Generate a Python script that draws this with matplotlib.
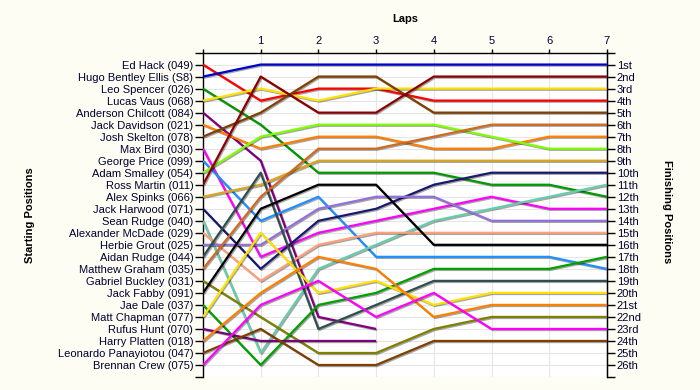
import matplotlib
matplotlib.use("Agg")
import matplotlib.pyplot as plt
import matplotlib.patheffects as pe

drivers = ["Ed Hack (049)", "Hugo Bentley Ellis (S8)", "Leo Spencer (026)", "Lucas Vaus (068)",
           "Anderson Chilcott (084)", "Jack Davidson (021)", "Josh Skelton (078)", "Max Bird (030)",
           "George Price (099)", "Adam Smalley (054)", "Ross Martin (011)", "Alex Spinks (066)",
           "Jack Harwood (071)", "Sean Rudge (040)", "Alexander McDade (029)", "Herbie Grout (025)",
           "Aidan Rudge (044)", "Matthew Graham (035)", "Gabriel Buckley (031)", "Jack Fabby (091)",
           "Jae Dale (037)", "Matt Chapman (077)", "Rufus Hunt (070)", "Harry Platten (018)",
           "Leonardo Panayiotou (047)", "Brennan Crew (075)"]

# position at lap 0..7 (shorter lists = retired)
positions = [
    [1, 4, 3, 3, 4, 4, 4, 4],
    [2, 1, 1, 1, 1, 1, 1, 1],
    [3, 6, 10, 10, 10, 11, 11, 12],
    [4, 3, 4, 3, 3, 3, 3, 3],
    [5, 9, 22, 23],
    [6, 8, 7, 7, 8, 8, 7, 7],
    [7, 5, 2, 2, 5, 5, 5, 5],
    [8, 17, 15, 14, 13, 12, 13, 13],
    [9, 14, 12, 17, 17, 17, 17, 18],
    [10, 7, 6, 6, 6, 7, 8, 8],
    [11, 2, 5, 5, 2, 2, 2, 2],
    [12, 11, 9, 9, 9, 9, 9, 9],
    [13, 18, 14, 13, 11, 10, 10, 10],
    [14, 25, 18, 16, 14, 13, 12, 11],
    [15, 19, 16, 15, 15, 15, 15, 15],
    [16, 16, 13, 12, 12, 14, 14, 14],
    [17, 10, 23, 21, 19, 19, 19, 19],
    [18, 12, 8, 8, 7, 6, 6, 6],
    [19, 22, 25, 25, 23, 22, 22, 22],
    [20, 13, 11, 11, 16, 16, 16, 16],
    [21, 26, 21, 20, 18, 18, 18, 17],
    [22, 15, 20, 19, 21, 20, 20, 20],
    [23, 24, 24, 24],
    [24, 20, 17, 18, 22, 21, 21, 21],
    [25, 23, 26, 26, 24, 24, 24, 24],
    [26, 21, 19, 22, 20, 23, 23, 23],
]

colors = ["#ff0000", "#0000cd", "#009a00", "#ffe000", "#800080", "#ff7f00", "#7f3f00", "#ff00ff",
          "#1e90ff", "#80ff00", "#8b0000", "#daa520", "#191970", "#66cdaa", "#ffa07a", "#9370db",
          "#2f4f4f", "#d2691e", "#808000", "#000000", "#00a000", "#ffe000", "#7a007a", "#ff7f00",
          "#7f3f00", "#ff00ff"]

finish_labels = ["1st", "2nd", "3rd"] + [f"{i}th" for i in range(4, 21)] + ["21st", "22nd", "23rd", "24th", "25th", "26th"]
laps = [1, 2, 3, 4, 5, 6, 7]

plt.rcParams['font.family'] = ['Liberation Sans', 'DejaVu Sans']
txtc = "#000033"

fig = plt.figure(figsize=(7, 3.9), dpi=100, facecolor="#fdfdf3")
ax = fig.add_axes([0.29, 0.0333, 0.577, 0.832])
ax.set_facecolor("white")

for pos, c in zip(positions, colors):
    ax.plot(range(len(pos)), pos, color=c, lw=1.6, solid_capstyle="butt", zorder=3,
            path_effects=[pe.SimpleLineShadow(offset=(0.8, -0.8), shadow_color="#000000", alpha=0.35),
                          pe.Normal()])

ax.set_xlim(0, 7)
ax.set_ylim(27, 0)

for y in range(0, 28):
    ax.axhline(y, color="#e6e6e6", lw=0.8, zorder=1)
for x in laps:
    ax.axvline(x, color="#e6e6e6", lw=0.8, zorder=1)

ax.spines['bottom'].set_visible(False)
for s in ['left', 'right', 'top']:
    ax.spines[s].set_color('black')
    ax.spines[s].set_linewidth(1.0)

ax.xaxis.tick_top()
ax.set_xticks([0] + laps)
ax.set_xticklabels([""] + [str(l) for l in laps], fontsize=8, color=txtc)
ax.tick_params(axis='x', length=3, width=1, pad=2, colors='black', labelcolor=txtc)

ax.set_yticks(range(0, 28))
ax.set_yticklabels([""] + drivers + [""], fontsize=8, color=txtc)
ax.tick_params(axis='y', which='both', length=6, width=1, pad=1, labelcolor=txtc)

ax2 = ax.twinx()
ax2.set_ylim(27, 0)
ax2.set_yticks(range(0, 28))
ax2.set_yticklabels([""] + finish_labels + [""], fontsize=8, color=txtc)
ax2.tick_params(axis='y', length=6, width=1, pad=1, labelcolor=txtc)
for s in ['bottom', 'top', 'left']:
    ax2.spines[s].set_visible(False)
ax2.spines['right'].set_color('black')

fig.text(405 / 700, 1 - 19 / 390, "Laps", ha="center", va="center", fontsize=8, fontweight="bold", color="black")
fig.text(30 / 700, 1 - 215 / 390, "Starting Positions", ha="center", va="center", rotation=90,
         fontsize=8, fontweight="bold", color="black")
fig.text(667 / 700, 1 - 212 / 390, "Finishing Positions", ha="center", va="center", rotation=270,
         fontsize=8, fontweight="bold", color="black")

fig.savefig("out.png", dpi=100, facecolor=fig.get_facecolor())
